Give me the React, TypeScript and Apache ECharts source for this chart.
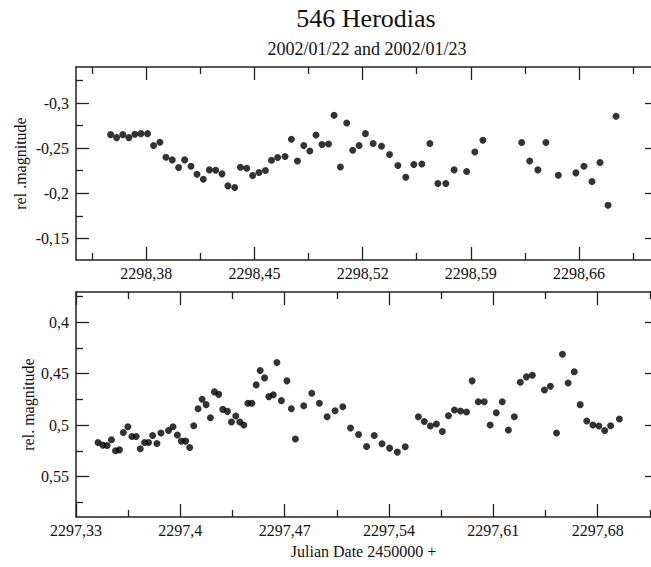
import React, { useEffect, useRef } from "react";
import * as echarts from "echarts";

// ---- Data (Julian Date - 2450000, relative magnitude) ----
const topJD = [2298.3569, 2298.3608, 2298.3648, 2298.3687, 2298.3726, 2298.3765, 2298.3808, 2298.3847, 2298.3888, 2298.3927, 2298.3968, 2298.4009, 2298.4048, 2298.4089, 2298.4128, 2298.4169, 2298.4208, 2298.4249, 2298.429, 2298.4328, 2298.4372, 2298.4409, 2298.445, 2298.4488, 2298.4529, 2298.4571, 2298.461, 2298.465, 2298.4698, 2298.4739, 2298.4778, 2298.4819, 2298.4858, 2298.4898, 2298.4937, 2298.4979, 2298.5015, 2298.5056, 2298.5097, 2298.5136, 2298.5177, 2298.5218, 2298.5268, 2298.5322, 2298.5374, 2298.5428, 2298.5479, 2298.5531, 2298.5583, 2298.5635, 2298.5687, 2298.5738, 2298.5792, 2298.5873, 2298.5926, 2298.5978, 2298.6229, 2298.6281, 2298.6334, 2298.6386, 2298.6466, 2298.658, 2298.6632, 2298.6684, 2298.6736, 2298.6788, 2298.684];
const topMag = [-0.265, -0.2617, -0.265, -0.2617, -0.2654, -0.2661, -0.2661, -0.2529, -0.2565, -0.2399, -0.237, -0.2285, -0.237, -0.23, -0.2211, -0.2156, -0.2259, -0.2256, -0.2215, -0.2082, -0.2064, -0.2289, -0.2278, -0.2197, -0.223, -0.2252, -0.2366, -0.2396, -0.2407, -0.2598, -0.2358, -0.2529, -0.2469, -0.2646, -0.254, -0.2547, -0.2864, -0.2292, -0.2779, -0.2477, -0.2529, -0.2661, -0.2551, -0.2521, -0.2429, -0.2307, -0.2178, -0.2319, -0.2325, -0.2551, -0.2108, -0.2108, -0.2259, -0.2241, -0.2458, -0.2587, -0.2562, -0.2358, -0.2259, -0.2562, -0.22, -0.2226, -0.23, -0.2131, -0.2341, -0.1868, -0.2853];

const bottomJD = [2297.3448, 2297.348, 2297.3509, 2297.3538, 2297.3565, 2297.3592, 2297.3618, 2297.3648, 2297.3675, 2297.3704, 2297.3731, 2297.376, 2297.3787, 2297.3814, 2297.3843, 2297.387, 2297.3921, 2297.3951, 2297.398, 2297.4007, 2297.4036, 2297.4063, 2297.409, 2297.4119, 2297.4146, 2297.4173, 2297.4202, 2297.4229, 2297.4258, 2297.4285, 2297.4316, 2297.4343, 2297.4372, 2297.4399, 2297.4426, 2297.4453, 2297.448, 2297.4509, 2297.4536, 2297.4565, 2297.4594, 2297.4624, 2297.4648, 2297.4678, 2297.4715, 2297.4745, 2297.4772, 2297.4828, 2297.4882, 2297.4933, 2297.4985, 2297.5038, 2297.509, 2297.5142, 2297.5196, 2297.525, 2297.5301, 2297.5353, 2297.5404, 2297.5456, 2297.5509, 2297.5597, 2297.5637, 2297.5678, 2297.5718, 2297.5758, 2297.5799, 2297.5839, 2297.588, 2297.592, 2297.5958, 2297.5999, 2297.6039, 2297.6079, 2297.612, 2297.616, 2297.6201, 2297.6241, 2297.6281, 2297.6322, 2297.6362, 2297.6443, 2297.6483, 2297.6524, 2297.6564, 2297.6602, 2297.6643, 2297.6683, 2297.6727, 2297.6768, 2297.6808, 2297.6847, 2297.6887, 2297.6946];
const bottomMag = [0.517, 0.5195, 0.5199, 0.5143, 0.525, 0.5241, 0.5072, 0.5017, 0.5111, 0.5111, 0.5231, 0.517, 0.517, 0.5101, 0.5179, 0.5078, 0.5053, 0.5017, 0.5097, 0.5156, 0.5156, 0.5218, 0.5007, 0.4841, 0.475, 0.4802, 0.4929, 0.4678, 0.4702, 0.4848, 0.4867, 0.4971, 0.4912, 0.4971, 0.5, 0.4789, 0.4789, 0.461, 0.4471, 0.4542, 0.4724, 0.4705, 0.4393, 0.4763, 0.4571, 0.4841, 0.5136, 0.4812, 0.4692, 0.4789, 0.4919, 0.4861, 0.4822, 0.5029, 0.5091, 0.5209, 0.5101, 0.5182, 0.5224, 0.5263, 0.5211, 0.4919, 0.4965, 0.501, 0.499, 0.5062, 0.4909, 0.4854, 0.4864, 0.4873, 0.4571, 0.4773, 0.4773, 0.5, 0.488, 0.4773, 0.5049, 0.4919, 0.4585, 0.4532, 0.4517, 0.4659, 0.4624, 0.5078, 0.4312, 0.4591, 0.4483, 0.4802, 0.4961, 0.5, 0.501, 0.5053, 0.5007, 0.4942];

// ---- Ticks ----
const topXTicks = [2298.38, 2298.45, 2298.52, 2298.59, 2298.66];
const topXMinor = [2298.345, 2298.415, 2298.485, 2298.555, 2298.625, 2298.695];
const bottomXTicks = [2297.33, 2297.4, 2297.47, 2297.54, 2297.61, 2297.68];
const bottomXMinor = [2297.365, 2297.435, 2297.505, 2297.575, 2297.645, 2297.715];
const topYTicks = [-0.3, -0.25, -0.2, -0.15];
const topYMinor = [-0.325, -0.275, -0.225, -0.175];
const bottomYTicks = [0.4, 0.45, 0.5, 0.55];
const bottomYMinor = [0.375, 0.425, 0.475, 0.525, 0.575];

const TITLE = "546 Herodias";
const SUBTITLE = "2002/01/22 and 2002/01/23";
const X_NAME = "Julian Date 2450000 +";
const TOP_Y_NAME = "rel .magnitude";
const BOTTOM_Y_NAME = "rel. magnitude";

const FONT = "Liberation Serif";
const LINE = "#222";
const TEXT = "#111";
const fmt = (v: number) => "{t|" + String(v).replace(".", ",") + "}";
const richLabel = { t: { fontFamily: FONT, fontSize: 16, color: TEXT } };

function xAxesFor(grid: number, min: number, max: number, major: number[], minor: number[], name?: string) {
  const base = { type: "value", gridIndex: grid, min, max, splitLine: { show: false } };
  const ls = { color: LINE, width: 1.3 };
  return [
    {
      ...base,
      position: "bottom",
      axisLine: { show: true, lineStyle: { color: LINE, width: 1.5 } },
      axisTick: { show: true, inside: true, length: 13, customValues: major, lineStyle: ls },
      axisLabel: { show: true, customValues: major, formatter: fmt, rich: richLabel, margin: 5, color: TEXT, fontSize: 16, fontFamily: FONT },
      name: name || "",
      nameLocation: "middle",
      nameGap: 26,
      nameMoveOverlap: false,
      nameTextStyle: { color: TEXT, fontSize: 16, fontFamily: FONT },
    },
    {
      ...base,
      position: "bottom",
      axisLine: { show: false },
      axisTick: { show: true, inside: true, length: 7, customValues: minor, lineStyle: ls },
      axisLabel: { show: false },
    },
    {
      ...base,
      position: "top",
      axisLine: { show: true, lineStyle: { color: LINE, width: 1.5 } },
      axisTick: { show: true, inside: true, length: 13, customValues: major, lineStyle: ls },
      axisLabel: { show: false },
    },
    {
      ...base,
      position: "top",
      axisLine: { show: false },
      axisTick: { show: true, inside: true, length: 7, customValues: minor, lineStyle: ls },
      axisLabel: { show: false },
    },
  ];
}

function yAxesFor(grid: number, min: number, max: number, major: number[], minor: number[], name: string, nameGap: number) {
  const base = { type: "value", gridIndex: grid, min, max, inverse: true, splitLine: { show: false } };
  const ls = { color: LINE, width: 1.3 };
  return [
    {
      ...base,
      position: "left",
      axisLine: { show: true, lineStyle: { color: LINE, width: 1.5 } },
      axisTick: { show: true, inside: true, length: 13, customValues: major, lineStyle: ls },
      axisLabel: { show: true, customValues: major, formatter: fmt, rich: richLabel, margin: 7, color: TEXT, fontSize: 16, fontFamily: FONT },
      name,
      nameLocation: "middle",
      nameGap,
      nameMoveOverlap: false,
      nameTextStyle: { color: TEXT, fontSize: 16, fontFamily: FONT },
    },
    {
      ...base,
      position: "left",
      axisLine: { show: false },
      axisTick: { show: true, inside: true, length: 7, customValues: minor, lineStyle: ls },
      axisLabel: { show: false },
    },
    {
      ...base,
      position: "right",
      axisLine: { show: false },
      axisTick: { show: true, inside: true, length: 6, customValues: major, lineStyle: ls },
      axisLabel: { show: false },
    },
  ];
}

export default function App() {
  const ref = useRef<HTMLDivElement>(null);
  useEffect(() => {
    if (!ref.current) return;
    const chart = echarts.init(ref.current, null, { renderer: "svg" });
    const topData = topJD.map((x, i) => [x, topMag[i]]);
    const bottomData = bottomJD.map((x, i) => [x, bottomMag[i]]);
    chart.setOption({
      animation: false,
      backgroundColor: "#fff",
      textStyle: { fontFamily: FONT },
      grid: [
        { left: 76, top: 67, right: 0, height: 193 },
        { left: 76, top: 292, right: 0, height: 225 },
      ],
      xAxis: [
        ...xAxesFor(0, 2298.3345, 2298.7066, topXTicks, topXMinor),
        ...xAxesFor(1, 2297.33, 2297.7158, bottomXTicks, bottomXMinor, X_NAME),
      ],
      yAxis: [
        ...yAxesFor(0, -0.34, -0.126, topYTicks, topYMinor, TOP_Y_NAME, 48),
        ...yAxesFor(1, 0.3708, 0.5893, bottomYTicks, bottomYMinor, BOTTOM_Y_NAME, 40),
      ],
      graphic: [
        {
          type: "text",
          x: 366,
          y: 18,
          style: { text: TITLE, fill: TEXT, font: `26px ${FONT}`, textAlign: "center", textVerticalAlign: "middle" },
        },
        {
          type: "text",
          x: 367,
          y: 49,
          style: { text: SUBTITLE, fill: TEXT, font: `18px ${FONT}`, textAlign: "center", textVerticalAlign: "middle" },
        },
      ],
      series: [
        {
          type: "scatter",
          xAxisIndex: 0,
          yAxisIndex: 0,
          data: topData,
          symbol: "circle",
          symbolSize: 7,
          itemStyle: { color: "#000" },
        },
        {
          type: "scatter",
          xAxisIndex: 4,
          yAxisIndex: 3,
          data: bottomData,
          symbol: "circle",
          symbolSize: 7,
          itemStyle: { color: "#000" },
        },
      ],
    });
    return () => chart.dispose();
  }, []);
  return (
    <div
      ref={ref}
      style={{ position: "fixed", left: 0, top: 0, width: 651, height: 567, background: "#fff" }}
    />
  );
}
